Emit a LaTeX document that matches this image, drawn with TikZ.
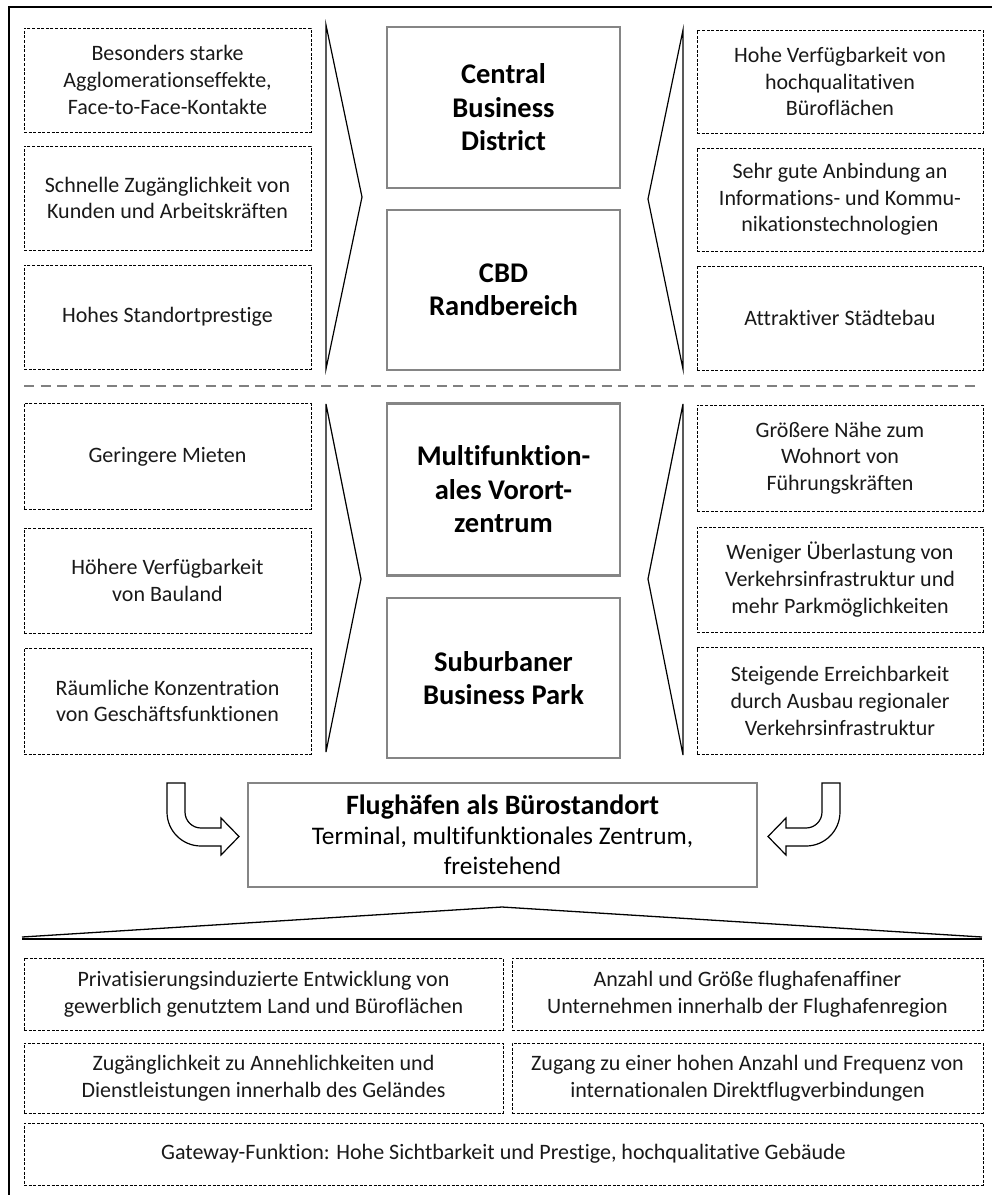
\documentclass[tikz,border=0pt]{standalone}
\usepackage{fontspec}
\setmainfont{Carlito}[Ligatures=NoCommon]
\begin{document}
\begin{tikzpicture}[x=1pt,y=-1pt,
  dbox/.style={draw=black, line width=0.9pt, dash pattern=on 3pt off 1.6pt, align=center, inner sep=2pt,
    font=\fontsize{22}{26.7}\selectfont, text=black!90},
  gbox/.style={draw=black!48, line width=2.2pt, align=center, inner sep=2pt,
    font=\bfseries\fontsize{28.5}{33.5}\selectfont},
  chev/.style={line width=1.2pt, line join=miter},
  uarrow/.style={line width=1.2pt, fill=white}]
\useasboundingbox (0,0) rectangle (992,1195);
% frame
\draw[line width=2pt] (992,6.5) -- (9,6.5) -- (9,1195);
% left boxes
\node[dbox, minimum width=287pt, minimum height=104pt] (l1) at (167.5,80) {Besonders starke\\Agglomerationseffekte,\\Face-to-Face-Kontakte};
\node[dbox, minimum width=287pt, minimum height=104pt] (l2) at (167.5,198) {Schnelle Zugänglichkeit von\\Kunden und Arbeitskräften};
\node[dbox, minimum width=287pt, minimum height=104pt] (l3) at (167.5,317) {Hohes Standortprestige};
\node[dbox, minimum width=287pt, minimum height=106pt] (l4) at (167.5,456.5) {Geringere Mieten};
\node[dbox, minimum width=287pt, minimum height=105pt] (l5) at (167.5,580.5) {Höhere Verfügbarkeit\\von Bauland};
\node[dbox, minimum width=287pt, minimum height=106pt] (l6) at (167.5,701) {Räumliche Konzentration\\von Geschäftsfunktionen};
% right boxes
\node[dbox, minimum width=286pt, minimum height=103pt] (r1) at (840,81.5) {Hohe Verfügbarkeit von\\hochqualitativen\\Büroflächen};
\node[dbox, minimum width=286pt, minimum height=103pt] (r2) at (840,199.5) {Sehr gute Anbindung an\\Informations- und Kommu-\\nikationstechnologien};
\node[dbox, minimum width=286pt, minimum height=104pt] (r3) at (840,318) {Attraktiver Städtebau};
\node[dbox, minimum width=286pt, minimum height=106pt] (r4) at (840,458) {Größere Nähe zum\\Wohnort von\\Führungskräften};
\node[dbox, minimum width=286pt, minimum height=105pt] (r5) at (840,579.5) {Weniger Überlastung von\\Verkehrsinfrastruktur und\\mehr Parkmöglichkeiten};
\node[dbox, minimum width=286pt, minimum height=107pt] (r6) at (840,701) {Steigende Erreichbarkeit\\durch Ausbau regionaler\\Verkehrsinfrastruktur};
% center boxes
\node[gbox, minimum width=233pt, minimum height=161pt] (c1) at (503.5,107.5) {Central\\Business\\District};
\node[gbox, minimum width=233pt, minimum height=160pt] (c2) at (503.5,290) {CBD\\Randbereich};
\node[gbox, minimum width=233pt, minimum height=172pt] (c3) at (503.5,489.5) {Multifunktion-\\ales Vorort-\\zentrum};
\node[gbox, minimum width=233pt, minimum height=160pt] (c4) at (503.5,678) {Suburbaner\\Business Park};
% chevrons
\draw[chev] (326,25) -- (362,197) -- (326,369) -- cycle;
\draw[chev] (326,404) -- (361,579) -- (326,752) -- cycle;
\draw[chev] (683,30) -- (648,199) -- (683,369) -- cycle;
\draw[chev] (683,404) -- (648,579) -- (683,755) -- cycle;
% separator
\draw[black!50, line width=1.6pt, dash pattern=on 10pt off 6.5pt] (24,386) -- (978,386);
% airport box
\node[draw=black!48, line width=2.2pt, align=center, minimum width=509pt, minimum height=104pt, inner sep=2pt,
  font=\fontsize{25.3}{30}\selectfont] (fh) at (502.5,835)
  {{\bfseries\fontsize{28}{30}\selectfont Flughäfen als Bürostandort}\\Terminal, multifunktionales Zentrum,\\freistehend};
% U arrows
\draw[uarrow] (167,783) -- (185,783) -- (185,812) arc[start angle=180, end angle=90, radius=16]
  -- (221,828) -- (221,818) -- (239,836.5) -- (221,855) -- (221,846) -- (201,846)
  arc[start angle=90, end angle=180, radius=34] -- cycle;
\draw[uarrow] (840,783) -- (822,783) -- (822,812) arc[start angle=0, end angle=90, radius=16]
  -- (786,828) -- (786,818) -- (768,836.5) -- (786,855) -- (786,846) -- (806,846)
  arc[start angle=90, end angle=0, radius=34] -- cycle;
% triangle
\draw[line width=1.3pt] (22,937) -- (502,907) -- (982,937);
\draw[line width=2pt] (22,939) -- (982,939);
% bottom boxes
\node[dbox, minimum width=479pt, minimum height=72pt] (b1) at (263.5,994) {Privatisierungsinduzierte Entwicklung von\\gewerblich genutztem Land und Büroflächen};
\node[dbox, minimum width=471pt, minimum height=72pt] (b2) at (747.5,994) {Anzahl und Größe flughafenaffiner\\Unternehmen innerhalb der Flughafenregion};
\node[dbox, minimum width=479pt, minimum height=70pt] (b3) at (263.5,1078) {Zugänglichkeit zu Annehlichkeiten und\\Dienstleistungen innerhalb des Geländes};
\node[dbox, minimum width=471pt, minimum height=70pt] (b4) at (747.5,1078) {Zugang zu einer hohen Anzahl und Frequenz von\\internationalen Direktflugverbindungen};
\node[dbox, minimum width=959pt, minimum height=62pt] (b5) at (503.5,1154) {Gateway-Funktion: Hohe Sichtbarkeit und Prestige, hochqualitative Gebäude};
\end{tikzpicture}
\end{document}
